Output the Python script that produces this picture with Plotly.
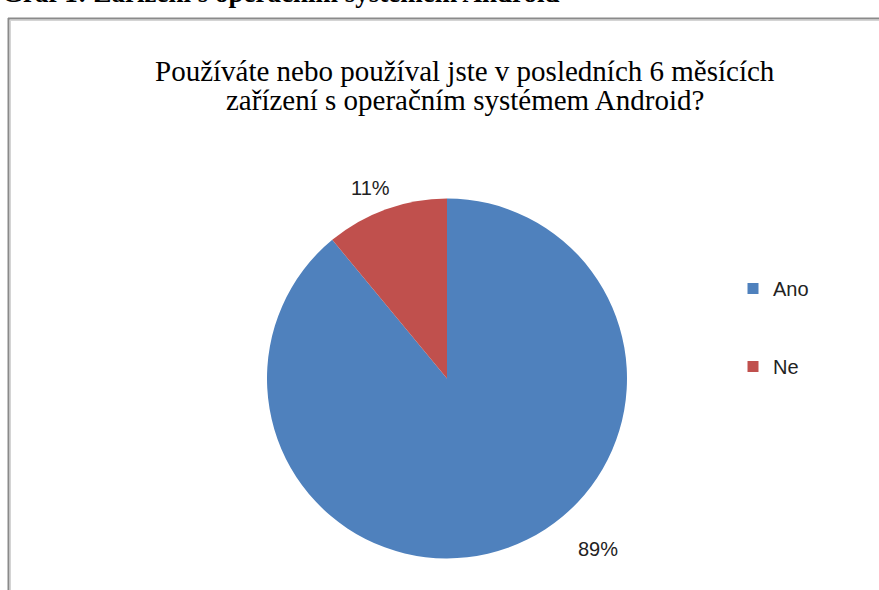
import plotly.graph_objects as go

W, H = 879, 590

labels = ["Ano", "Ne"]
values = [89, 11]
colors = ["#4F81BD", "#C0504D"]
pct_text = ["89%", "11%"]

header = "Graf 1: Zařízení s operačním systémem Android"
title_lines = ["Používáte nebo používal jste v posledních 6 měsících",
               "zařízení s operačním systémem Android?"]


def px(x):
    return x / W


def py(y):
    return 1 - y / H


fig = go.Figure()

cx, cy, r = 447, 378.5, 180
fig.add_trace(go.Pie(
    labels=labels, values=values,
    marker=dict(colors=colors, line=dict(width=0)),
    sort=False, direction="clockwise", rotation=0,
    textinfo="none", hoverinfo="label+percent",
    showlegend=False,
    domain=dict(x=[px(cx - r), px(cx + r)], y=[py(cy + r), py(cy - r)]),
))

# legend entries
for i, (lab, col) in enumerate(zip(labels, colors)):
    fig.add_trace(go.Scatter(
        x=[None], y=[None], mode="markers", name=lab,
        marker=dict(symbol="square", size=11, color=col),
        legendgroup=f"g{i}", showlegend=True,
    ))

ann = []
# header (partially cut off at top)
ann.append(dict(text="<b>" + header + "</b>", x=px(0), y=py(-7), xref="paper", yref="paper",
                xanchor="left", yanchor="middle", showarrow=False,
                font=dict(family="Liberation Serif", size=27, color="#000")))
# title
for j, line in enumerate(title_lines):
    ann.append(dict(text=line, x=px(465), y=py(71 + 29 * j), xref="paper", yref="paper",
                    xanchor="center", yanchor="middle", showarrow=False,
                    font=dict(family="Liberation Serif", size=29, color="#000")))
# data labels
label_pos = [(598, 549), (370, 188)]
for t, (lx, ly) in zip(pct_text, label_pos):
    ann.append(dict(text=t, x=px(lx), y=py(ly), xref="paper", yref="paper",
                    xanchor="center", yanchor="middle", showarrow=False,
                    font=dict(family="Liberation Sans", size=20, color="#222")))

shapes = [
    dict(type="line", xref="paper", yref="paper", x0=px(8.5), x1=px(8.5), y0=py(18), y1=py(600),
         line=dict(color="#8a8a8a", width=2)),
    dict(type="line", xref="paper", yref="paper", x0=px(8), x1=px(900), y0=py(18.5), y1=py(18.5),
         line=dict(color="#8a8a8a", width=2)),
    dict(type="line", xref="paper", yref="paper", x0=px(10.5), x1=px(10.5), y0=py(20), y1=py(600),
         line=dict(color="#d4d4d4", width=1)),
    dict(type="line", xref="paper", yref="paper", x0=px(10), x1=px(900), y0=py(20.5), y1=py(20.5),
         line=dict(color="#d4d4d4", width=1)),
]

fig.update_layout(
    width=W, height=H,
    margin=dict(l=0, r=0, t=0, b=0),
    paper_bgcolor="white", plot_bgcolor="white",
    xaxis=dict(visible=False), yaxis=dict(visible=False),
    legend=dict(x=px(733), y=py(269), xanchor="left", yanchor="top",
                font=dict(family="Liberation Sans", size=20, color="#222"),
                tracegroupgap=49, traceorder="grouped", itemwidth=30,
                bgcolor="rgba(0,0,0,0)"),
    annotations=ann, shapes=shapes,
)

fig.write_html("out.html")
